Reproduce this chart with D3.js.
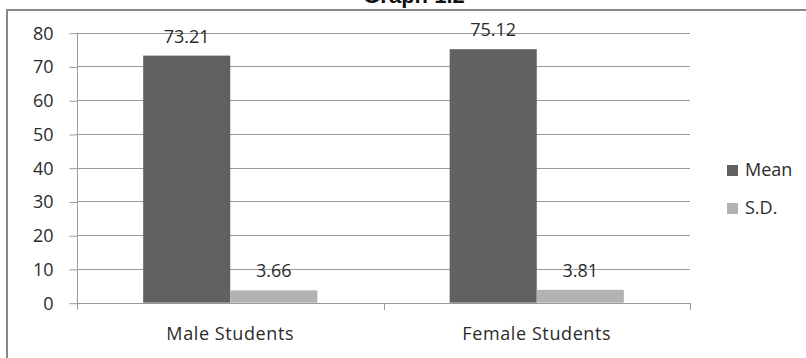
<!DOCTYPE html>
<html>
<head>
<meta charset="utf-8">
<script src="https://cdn.jsdelivr.net/npm/d3@7"></script>
<style>
  html, body { margin: 0; padding: 0; background: #fff; }
  svg { display: block; }
</style>
</head>
<body>
<svg id="chart" width="806" height="358"></svg>
<script>
// Data
const categories = ["Male Students", "Female Students"];
const seriesNames = ["Mean", "S.D."];
const meanValues = [73.21, 75.12];
const sdValues = [3.66, 3.81];
const yTicks = [0, 10, 20, 30, 40, 50, 60, 70, 80];
const title = "Graph 1.2";

const colors = { "Mean": "#616161", "S.D.": "#b2b2b2" };
const seriesValues = { "Mean": meanValues, "S.D.": sdValues };

const svg = d3.select("#chart");
const font = "'Open Sans', 'Noto Sans', sans-serif";
const fontSize = 18;
const textColor = "#2b2b2b";
const gridColor = "#9a9a9a";

const plot = { left: 77, right: 690, top: 32.7, bottom: 302.7 };

const x = d3.scaleBand()
  .domain(categories)
  .range([plot.left, plot.right])
  .paddingInner(0)
  .paddingOuter(0);

// Two touching bars per category, centred in the band
const xInner = d3.scaleBand()
  .domain(seriesNames)
  .range([0, x.bandwidth()])
  .paddingInner(0)
  .paddingOuter(0.76);

const y = d3.scaleLinear()
  .domain([0, 80])
  .range([plot.bottom, plot.top]);

// Outer frame (left and top edges)
svg.append("path")
  .attr("d", `M7,358 L7,10 L806,10`)
  .attr("fill", "none")
  .attr("stroke", "#878787")
  .attr("stroke-width", 2);

// Title
svg.append("text")
  .attr("x", 414)
  .attr("y", 3)
  .attr("text-anchor", "middle")
  .attr("font-family", "'Liberation Sans', Arial, sans-serif")
  .attr("font-weight", "bold")
  .attr("font-size", 22)
  .attr("fill", "#111")
  .text(title);

// Gridlines
svg.append("g")
  .selectAll("line")
  .data(yTicks.filter(d => d > 0))
  .join("line")
  .attr("x1", plot.left)
  .attr("x2", plot.right)
  .attr("y1", d => Math.round(y(d)) + 0.5)
  .attr("y2", d => Math.round(y(d)) + 0.5)
  .attr("stroke", gridColor)
  .attr("stroke-width", 1);

// Y axis
const yAxis = svg.append("g")
  .attr("transform", `translate(${plot.left + 0.5},0)`)
  .call(d3.axisLeft(y).tickValues(yTicks).tickSize(8).tickPadding(16).tickSizeOuter(0));
yAxis.select(".domain").attr("stroke", gridColor).attr("d", `M0,${plot.top}V${plot.bottom + 7}`);
yAxis.selectAll(".tick line").attr("stroke", gridColor).attr("transform", "translate(0,0.5)");
yAxis.selectAll(".tick text")
  .attr("font-family", font)
  .attr("font-size", fontSize)
  .attr("fill", textColor)
  .attr("dy", "0.36em");

// X axis
const xAxis = svg.append("g")
  .attr("transform", `translate(0,${Math.round(plot.bottom) + 0.5})`)
  .call(d3.axisBottom(x).tickSize(0).tickPadding(24));
xAxis.select(".domain").attr("stroke", gridColor).attr("d", `M${plot.left},0H${plot.right}`);
xAxis.selectAll(".tick text")
  .attr("font-family", font)
  .attr("font-size", fontSize)
  .attr("letter-spacing", 0.6)
  .attr("fill", textColor);

// Category dividers on the x axis
svg.append("g")
  .selectAll("line")
  .data([x(categories[1]), plot.right])
  .join("line")
  .attr("x1", d => Math.round(d) + 0.5)
  .attr("x2", d => Math.round(d) + 0.5)
  .attr("y1", Math.round(plot.bottom))
  .attr("y2", Math.round(plot.bottom) + 7)
  .attr("stroke", gridColor);

// Bars
const rows = [];
categories.forEach((c, i) => {
  seriesNames.forEach(s => rows.push({ cat: c, series: s, value: seriesValues[s][i] }));
});

const barG = svg.append("g");
barG.selectAll("rect")
  .data(rows)
  .join("rect")
  .attr("x", d => x(d.cat) + xInner(d.series))
  .attr("y", d => y(d.value))
  .attr("width", xInner.bandwidth())
  .attr("height", d => y(0) - y(d.value))
  .attr("fill", d => colors[d.series]);

// Value labels
barG.selectAll("text")
  .data(rows)
  .join("text")
  .attr("x", d => x(d.cat) + xInner(d.series) + xInner.bandwidth() / 2)
  .attr("y", d => y(d.value) - 13)
  .attr("text-anchor", "middle")
  .attr("font-family", font)
  .attr("font-size", fontSize)
  .attr("fill", textColor)
  .text(d => d.value.toFixed(2));

// Legend
const legend = svg.append("g").attr("transform", "translate(727,165)");
const item = legend.selectAll("g")
  .data(seriesNames)
  .join("g")
  .attr("transform", (d, i) => `translate(0,${i * 38})`);
item.append("rect")
  .attr("width", 11)
  .attr("height", 11)
  .attr("fill", d => colors[d]);
item.append("text")
  .attr("x", 18)
  .attr("y", 11)
  .attr("font-family", font)
  .attr("font-size", fontSize)
  .attr("fill", textColor)
  .text(d => d);
</script>
</body>
</html>
